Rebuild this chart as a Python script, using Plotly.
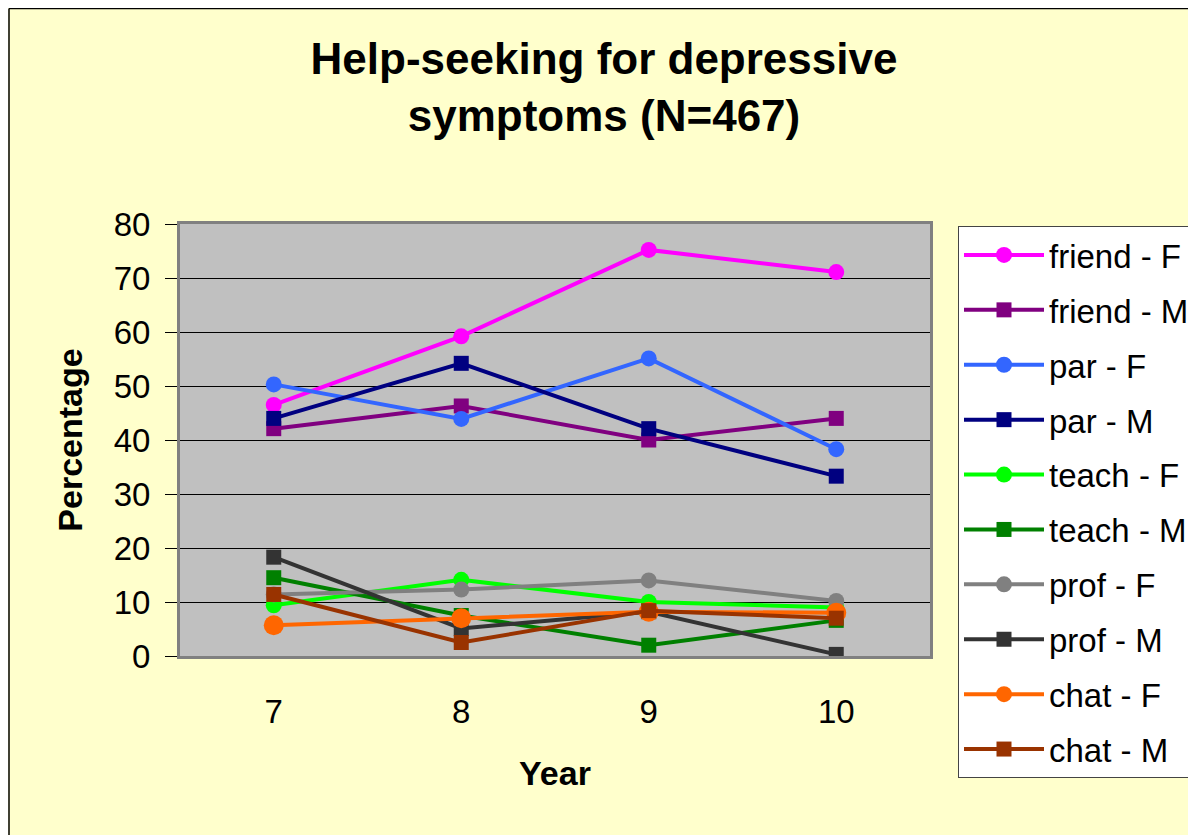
import plotly.graph_objects as go

years = ["7", "8", "9", "10"]
y_ticks = [0, 10, 20, 30, 40, 50, 60, 70, 80]

series_names = ["friend - F", "friend - M", "par - F", "par - M", "teach - F",
                "teach - M", "prof - F", "prof - M", "chat - F", "chat - M"]
friend_f = [46.5, 59.2, 75.2, 71.1]
friend_m = [42.1, 46.3, 40.0, 44.0]
par_f = [50.3, 43.9, 55.1, 38.3]
par_m = [44.0, 54.2, 42.1, 33.3]
teach_f = [9.4, 14.1, 10.0, 9.0]
teach_m = [14.5, 7.5, 2.0, 6.6]
prof_f = [11.4, 12.3, 14.0, 10.2]
prof_m = [18.3, 5.1, 8.2, 0.3]
chat_f = [5.7, 7.0, 8.2, 8.0]
chat_m = [11.4, 2.5, 8.4, 7.0]

series_values = [friend_f, friend_m, par_f, par_m, teach_f,
                 teach_m, prof_f, prof_m, chat_f, chat_m]
colors = ["#FF00FF", "#800080", "#3366FF", "#000080", "#00FF00",
          "#008000", "#808080", "#333333", "#FF6600", "#993300"]
symbols = ["circle", "square"] * 5
msizes = [16, 15, 16, 15, 16, 15, 16, 15, 20, 15]

W, H = 1196, 835
# figure-pixel geometry (page has an 8px body margin)
L, R, T = 172, 922, 216      # axes box left/right/top
AB = 648                     # axes bottom
PB = 790                     # plot-area bottom (extended for the legend)

def px(x):
    return (x - L) / (R - L)

def py(y):
    return (PB - y) / (PB - T)

fig = go.Figure()
for i, (name, vals) in enumerate(zip(series_names, series_values)):
    fig.add_trace(go.Scatter(
        x=years, y=vals, name=name, mode="lines+markers",
        legendgroup=f"g{i}",
        line=dict(color=colors[i], width=4),
        marker=dict(symbol=symbols[i], size=msizes[i], color=colors[i],
                    line=dict(width=0)),
    ))

shapes = [
    dict(type="line", xref="paper", yref="paper", x0=px(1), x1=px(W), y0=py(0.5), y1=py(0.5),
         line=dict(color="black", width=1.5), layer="above"),
    dict(type="line", xref="paper", yref="paper", x0=px(1), x1=px(1), y0=py(0.5), y1=py(H),
         line=dict(color="black", width=1.5), layer="above"),
]

fig.update_layout(
    width=W, height=H,
    margin=dict(l=L, r=W - R, t=T, b=H - PB, autoexpand=False),
    paper_bgcolor="#FFFFCC",
    plot_bgcolor="#C0C0C0",
    font=dict(family="Liberation Sans, Arial, sans-serif", size=33, color="black"),
    title=dict(text="<b>Help-seeking for depressive<br>symptoms (N=467)</b>",
               x=px(596), xref="paper", xanchor="center",
               y=1 - 66 / H, yanchor="middle",
               font=dict(size=44)),
    showlegend=True,
    legend=dict(x=px(950), y=py(218), xanchor="left", yanchor="top",
                bgcolor="white", bordercolor="#444444", borderwidth=1,
                font=dict(size=33), tracegroupgap=9, itemwidth=80),
    shapes=shapes,
)

fig.update_xaxes(
    type="category", categoryorder="array", categoryarray=years,
    range=[-0.5, 3.5], showgrid=False, ticks="", ticklabelstandoff=24,
    showline=True, linecolor="#808080", linewidth=3, mirror=True,
    title=dict(text="<b>Year</b>", font=dict(size=34), standoff=33),
    zeroline=False,
)
fig.update_yaxes(
    domain=[(PB - AB) / (PB - T), 1],
    range=[0, 80], tickvals=y_ticks, showgrid=True, gridcolor="black", gridwidth=1,
    ticks="outside", ticklen=12, tickcolor="black", tickwidth=1,
    ticklabelstandoff=8,
    showline=True, linecolor="#808080", linewidth=3, mirror=True,
    title=dict(text="<b>Percentage</b>", font=dict(size=34), standoff=21),
    zeroline=False,
)

fig.write_html("out.html")
